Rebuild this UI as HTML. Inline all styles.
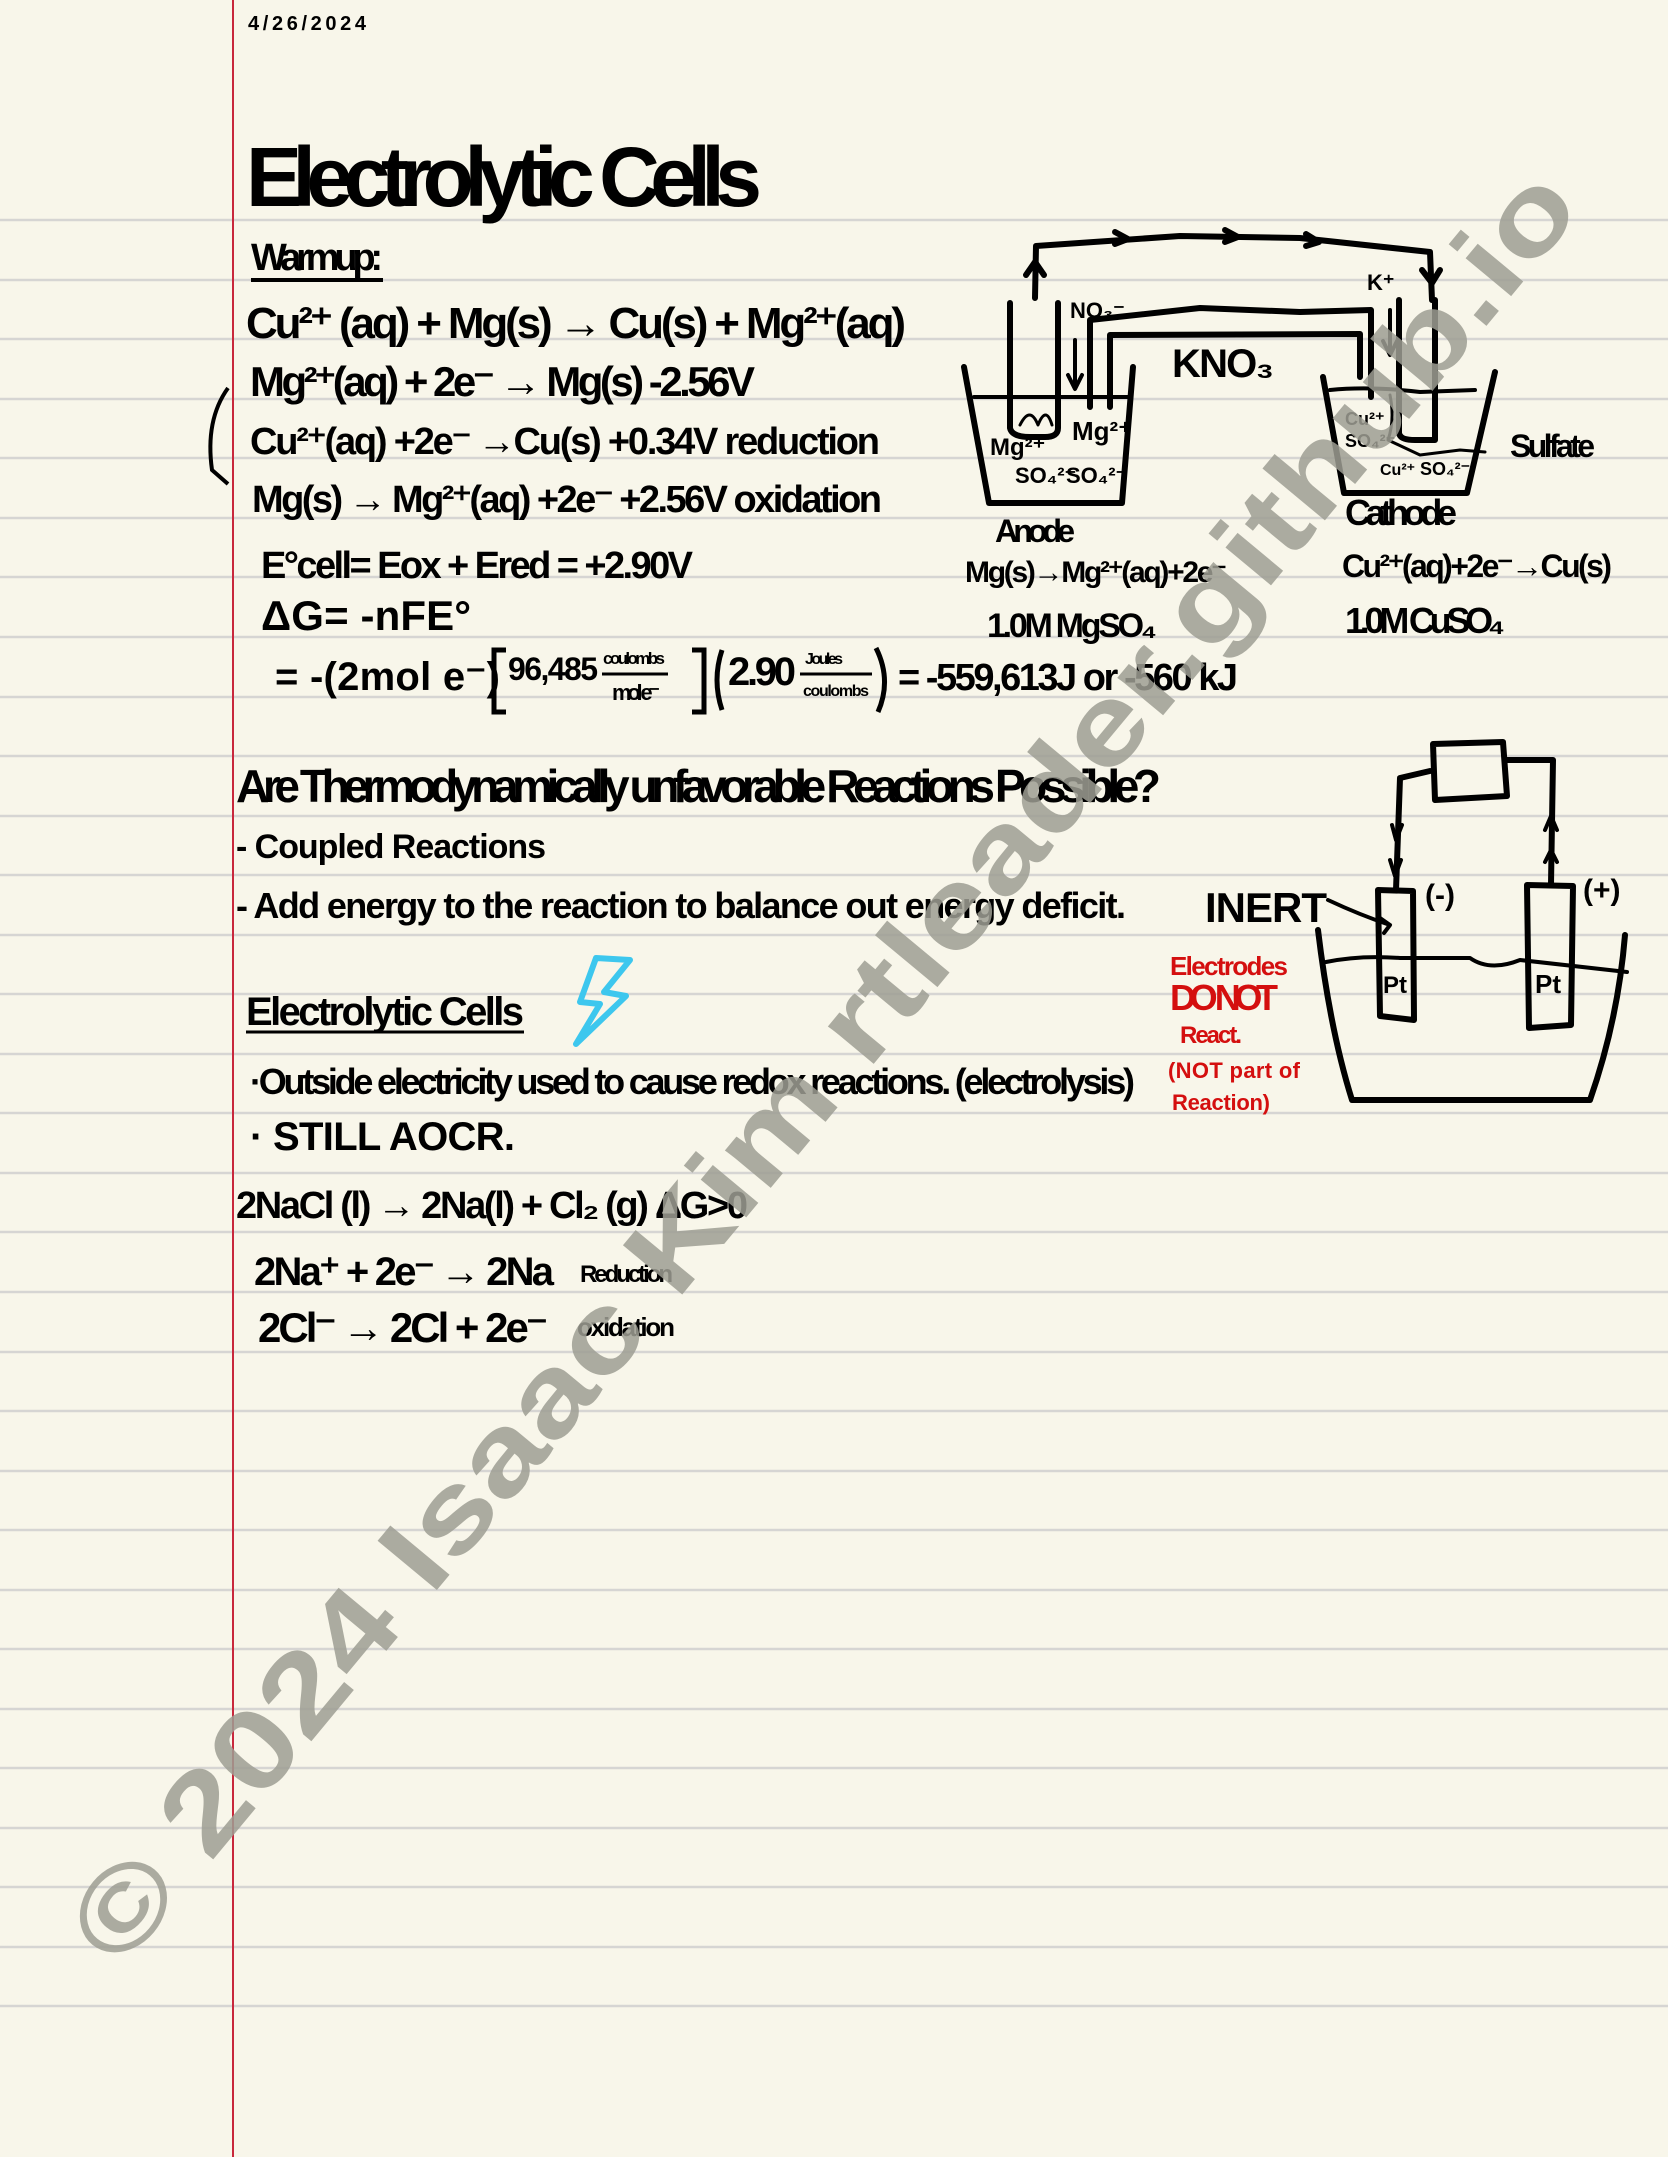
<!DOCTYPE html>
<html><head><meta charset="utf-8"><style>
html,body{margin:0;padding:0;background:#f8f6ea;}
svg{display:block}
text{font-family:"Liberation Sans Narrow","Liberation Sans",sans-serif;font-weight:bold;fill:#000}
.r{fill:#d40f0f}
</style></head><body>
<svg width="1668" height="2157" viewBox="0 0 1668 2157" xmlns="http://www.w3.org/2000/svg">
<rect width="1668" height="2157" fill="#f8f6ea"/>
<g stroke="#d6d5d3" stroke-width="2.5">
<line x1="0" y1="220" x2="1668" y2="220"/><line x1="0" y1="280" x2="1668" y2="280"/><line x1="0" y1="339" x2="1668" y2="339"/><line x1="0" y1="399" x2="1668" y2="399"/><line x1="0" y1="458" x2="1668" y2="458"/><line x1="0" y1="518" x2="1668" y2="518"/><line x1="0" y1="577" x2="1668" y2="577"/><line x1="0" y1="637" x2="1668" y2="637"/><line x1="0" y1="697" x2="1668" y2="697"/><line x1="0" y1="756" x2="1668" y2="756"/><line x1="0" y1="816" x2="1668" y2="816"/><line x1="0" y1="875" x2="1668" y2="875"/><line x1="0" y1="935" x2="1668" y2="935"/><line x1="0" y1="994" x2="1668" y2="994"/><line x1="0" y1="1054" x2="1668" y2="1054"/><line x1="0" y1="1113" x2="1668" y2="1113"/><line x1="0" y1="1173" x2="1668" y2="1173"/><line x1="0" y1="1232" x2="1668" y2="1232"/><line x1="0" y1="1292" x2="1668" y2="1292"/><line x1="0" y1="1352" x2="1668" y2="1352"/><line x1="0" y1="1411" x2="1668" y2="1411"/><line x1="0" y1="1471" x2="1668" y2="1471"/><line x1="0" y1="1530" x2="1668" y2="1530"/><line x1="0" y1="1590" x2="1668" y2="1590"/><line x1="0" y1="1649" x2="1668" y2="1649"/><line x1="0" y1="1709" x2="1668" y2="1709"/><line x1="0" y1="1768" x2="1668" y2="1768"/><line x1="0" y1="1828" x2="1668" y2="1828"/><line x1="0" y1="1887" x2="1668" y2="1887"/><line x1="0" y1="1947" x2="1668" y2="1947"/><line x1="0" y1="2006" x2="1668" y2="2006"/>
</g>
<line x1="233" y1="0" x2="233" y2="2157" stroke="#c8283c" stroke-width="2"/>

<text x="248" y="30" font-size="20" textLength="118" font-weight="normal">4/26/2024</text>
<text x="246" y="206" font-size="84" textLength="516">Electrolytic Cells</text>
<text x="251" y="270" font-size="38" textLength="132">Warmup:</text>
<line x1="251" y1="280" x2="383" y2="280" stroke="#000" stroke-width="4"/>

<text x="246" y="338" font-size="44" textLength="660">Cu²⁺ (aq) + Mg(s) → Cu(s) + Mg²⁺(aq)</text>
<text x="250" y="396" font-size="42" textLength="505">Mg²⁺(aq) + 2e⁻ → Mg(s)   -2.56V</text>
<text x="250" y="454" font-size="38" textLength="630">Cu²⁺(aq) +2e⁻ →Cu(s)   +0.34V reduction</text>
<text x="252" y="512" font-size="38" textLength="630">Mg(s) → Mg²⁺(aq) +2e⁻  +2.56V oxidation</text>
<path d="M228 388 Q205 420 212 470 L228 484" fill="none" stroke="#000" stroke-width="4"/>

<text x="261" y="578" font-size="38" textLength="432">E°cell= Eox + Ered = +2.90V</text>
<text x="261" y="630" font-size="42" textLength="210">ΔG= -nFE°</text>
<text x="275" y="690" font-size="40" textLength="225">= -(2mol e⁻)</text>
<path d="M506 650 L494 650 L494 712 L506 712" fill="none" stroke="#000" stroke-width="5"/>
<text x="508" y="680" font-size="32" textLength="90">96,485</text>
<text x="603" y="664" font-size="17" textLength="62">coulombs</text>
<line x1="602" y1="674" x2="668" y2="674" stroke="#000" stroke-width="3"/>
<text x="612" y="700" font-size="22" textLength="48">mol e⁻</text>
<path d="M692 650 L704 650 L704 712 L692 712" fill="none" stroke="#000" stroke-width="5"/>
<path d="M722 650 Q712 680 722 710" fill="none" stroke="#000" stroke-width="5"/>
<text x="728" y="685" font-size="40" textLength="68">2.90</text>
<text x="805" y="664" font-size="16" textLength="38">Joules</text>
<line x1="800" y1="674" x2="872" y2="674" stroke="#000" stroke-width="3"/>
<text x="803" y="696" font-size="16" textLength="66">coulombs</text>
<path d="M876 648 Q892 680 878 712" fill="none" stroke="#000" stroke-width="5"/>
<text x="898" y="690" font-size="38" textLength="340">= -559,613J or -560 kJ</text>

<text x="236" y="802" font-size="46" textLength="925">Are Thermodynamically unfavorable Reactions Possible?</text>
<text x="236" y="858" font-size="34" textLength="310">- Coupled Reactions</text>
<text x="236" y="918" font-size="36" textLength="890">- Add energy to the reaction to balance out energy deficit.</text>
<text x="246" y="1025" font-size="40" textLength="278">Electrolytic Cells</text>
<line x1="246" y1="1032" x2="524" y2="1032" stroke="#000" stroke-width="3"/>
<path d="M596 958 L630 960 L604 992 L626 996 L576 1044 L600 1004 L580 1002 Z" fill="none" stroke="#3dc7ee" stroke-width="6" stroke-linejoin="round"/>
<text x="250" y="1094" font-size="36" textLength="885">·Outside electricity used to cause redox reactions. (electrolysis)</text>
<text x="250" y="1150" font-size="40" textLength="265">· STILL AOCR.</text>
<text x="236" y="1218" font-size="38" textLength="512">2NaCl (l) → 2Na(l) + Cl₂ (g)  ΔG&gt;0</text>
<text x="254" y="1285" font-size="40" textLength="300">2Na⁺ + 2e⁻ → 2Na</text>
<text x="580" y="1282" font-size="24" textLength="93">Reduction</text>
<text x="258" y="1342" font-size="42" textLength="290">2Cl⁻ → 2Cl + 2e⁻</text>
<text x="577" y="1336" font-size="26" textLength="98">oxidation</text>

<!-- galvanic diagram -->
<g fill="none" stroke="#000" stroke-width="6" stroke-linejoin="round" stroke-linecap="round">
<path d="M1035 298 L1036 246 L1180 236 L1300 238 L1430 252 L1432 300"/>
<path d="M1026 275 L1035 262 L1044 275"/>
<path d="M1115 244 L1128 239 L1115 232"/><path d="M1225 242 L1238 237 L1225 230"/><path d="M1306 246 L1319 242 L1306 234"/>
<path d="M1422 270 L1432 283 L1440 270"/>
<path d="M1010 303 L1010 428 Q1012 437 1030 437 L1045 437 Q1058 437 1058 428 L1058 303"/>
<path d="M1020 425 Q1030 405 1038 425 Q1046 405 1052 425" stroke-width="3"/>
<path d="M964 367 L989 503 L1122 503 L1133 367"/>
<path d="M974 397 L1128 397" stroke-width="4"/>
<path d="M1090 407 L1090 320 L1200 308 L1300 312 L1371 310 L1371 397"/>
<path d="M1110 407 L1110 335 L1360 334 L1360 377"/>
<path d="M1323 377 L1344 493 L1467 493 L1495 372"/>
<path d="M1330 390 Q1370 386 1420 392 L1475 390" stroke-width="4"/>
<path d="M1399 300 L1399 433 Q1400 440 1415 440 L1435 440 L1435 300"/>
<path d="M1390 395 Q1395 420 1388 440 L1420 455 L1460 450 L1485 452" stroke-width="3"/>
<path d="M1075 340 L1075 387 M1068 375 L1075 389 L1082 375" stroke-width="4"/>
<path d="M1390 310 L1390 353 M1383 341 L1390 355 L1397 341" stroke-width="4"/>
</g>
<text x="1070" y="318" font-size="22">NO₃⁻</text>
<text x="1367" y="290" font-size="22">K⁺</text>
<text x="1172" y="377" font-size="40" textLength="102">KNO₃</text>
<text x="990" y="455" font-size="24">Mg²⁺</text>
<text x="1072" y="440" font-size="26">Mg²⁺</text>
<text x="1015" y="483" font-size="22">SO₄²⁻</text>
<text x="1066" y="483" font-size="22">SO₄²⁻</text>
<text x="1345" y="425" font-size="18">Cu²⁺</text>
<text x="1345" y="447" font-size="18">SO₄²⁻</text>
<text x="1380" y="475" font-size="16">Cu²⁺</text>
<text x="1420" y="475" font-size="18">SO₄²⁻</text>
<text x="1510" y="457" font-size="32" textLength="85">Sulfate</text>
<text x="995" y="542" font-size="32" textLength="80">Anode</text>
<text x="965" y="582" font-size="30" textLength="262">Mg(s)→Mg²⁺(aq)+2e⁻</text>
<text x="987" y="637" font-size="34" textLength="170">1.0M MgSO₄</text>
<text x="1345" y="525" font-size="36" textLength="112">Cathode</text>
<text x="1342" y="577" font-size="32" textLength="270">Cu²⁺(aq)+2e⁻→Cu(s)</text>
<text x="1345" y="633" font-size="36" textLength="160">1.0M CuSO₄</text>

<!-- electrolytic diagram -->
<g fill="none" stroke="#000" stroke-width="6" stroke-linejoin="round" stroke-linecap="round">
<path d="M1433 744 L1503 742 L1507 796 L1435 800 Z"/>
<path d="M1430 771 L1400 778 L1396 890"/>
<path d="M1392 825 L1396 840 L1402 825 M1390 860 L1395 876 L1401 860" stroke-width="4"/>
<path d="M1505 760 L1553 760 L1551 884"/>
<path d="M1545 830 L1551 816 L1557 830 M1545 862 L1551 850 L1557 862" stroke-width="4"/>
<path d="M1378 890 L1413 891 L1414 1020 L1380 1016 Z"/>
<path d="M1527 885 L1573 886 L1571 1025 L1529 1028 Z"/>
<path d="M1318 930 Q1330 1030 1352 1100 L1590 1100 Q1618 1020 1625 935"/>
<path d="M1326 962 Q1360 955 1400 958 L1470 958 Q1490 972 1520 960 L1627 972" stroke-width="4"/>
<path d="M1328 900 Q1360 915 1390 925 M1380 918 L1390 925 L1384 933" stroke-width="4"/>
</g>
<text x="1205" y="922" font-size="42" textLength="122">INERT</text>
<text x="1425" y="905" font-size="30">(-)</text>
<text x="1583" y="900" font-size="30">(+)</text>
<text x="1383" y="993" font-size="24">Pt</text>
<text x="1535" y="993" font-size="26">Pt</text>
<text class="r" x="1170" y="975" font-size="26" textLength="118">Electrodes</text>
<text class="r" x="1170" y="1010" font-size="36" textLength="108">DO NOT</text>
<text class="r" x="1180" y="1043" font-size="24" textLength="62">React.</text>
<text class="r" x="1168" y="1078" font-size="22" textLength="132">(NOT part of</text>
<text class="r" x="1172" y="1110" font-size="22" textLength="98">Reaction)</text>

<!-- watermark -->
<text x="0" y="0" font-size="112" textLength="2290" lengthAdjust="spacingAndGlyphs" text-anchor="middle" style="font-family:'Liberation Sans',sans-serif;font-weight:bold;fill:#9e9d93;fill-opacity:0.85" transform="translate(852,1090) rotate(-50.3)">© 2024 Isaac Kim rtleader.github.io</text>
</svg>
</body></html>
